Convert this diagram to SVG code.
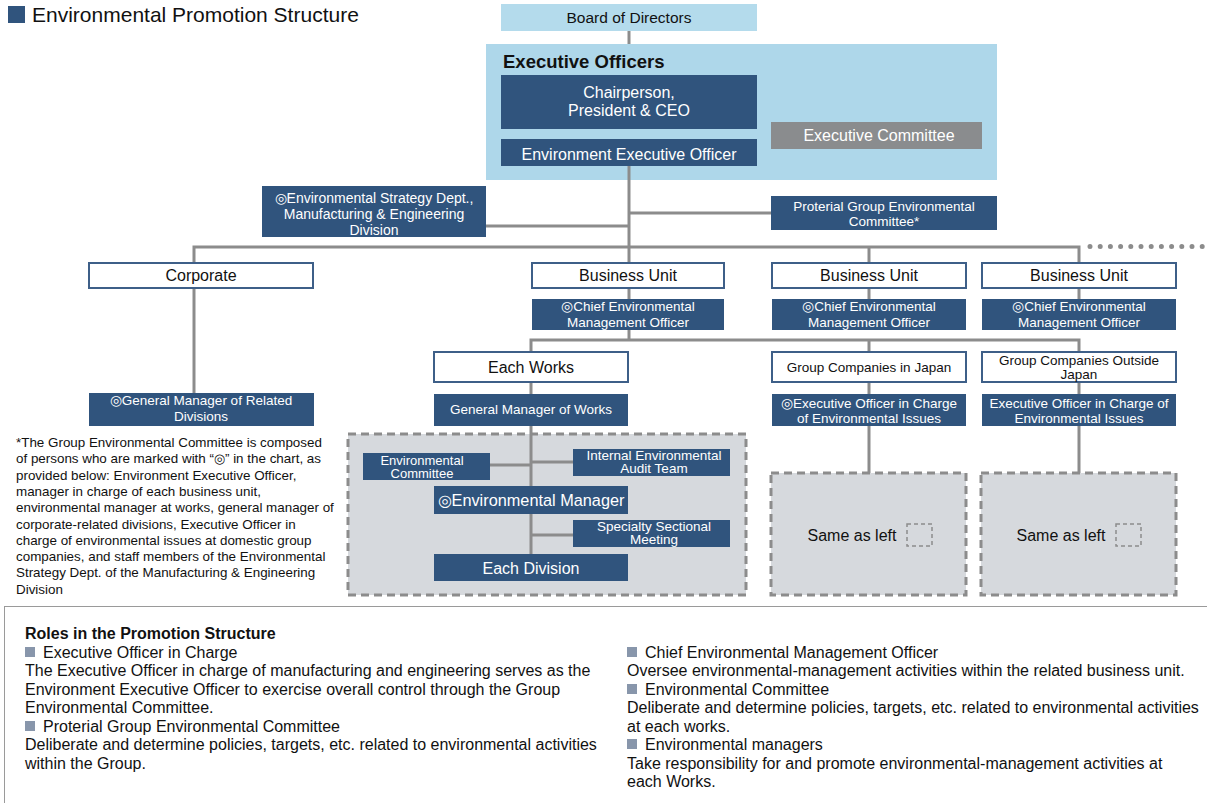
<svg xmlns="http://www.w3.org/2000/svg" width="1207" height="803" viewBox="0 0 1207 803">
<style>
text{font-family:"Liberation Sans",Arial,sans-serif;}
.dk{fill:#30547d;}
.wb{fill:#ffffff;stroke:#3e5f88;stroke-width:2;}
.wt{fill:#ffffff;text-anchor:middle;}
.bt{fill:#111111;text-anchor:middle;}
.s13{font-size:13.5px;}
.s15{font-size:16px;}
.con{fill:none;stroke:#8c8c8c;stroke-width:3;}
.reg{fill:#d6d9dd;stroke:#8c8c8c;stroke-width:3;stroke-dasharray:8 5;}
.body{font-size:16px;fill:#111111;}
.bul{fill:#8896ab;}
</style>

<g id="title">
<rect x="8" y="6" width="17" height="17" fill="#30547d"/>
<text x="32" y="21.5" font-size="21" fill="#111">Environmental Promotion Structure</text>
</g>

<g id="board">
<rect x="501" y="4" width="256" height="27" fill="#b4dbec"/>
<text x="629" y="23" class="bt" font-size="15.5">Board of Directors</text>
</g>

<g id="exec-panel">
<rect x="486" y="44" width="511" height="136" fill="#aed7ea"/>
<text x="503" y="68" font-size="18.5" font-weight="bold" fill="#111">Executive Officers</text>
</g>

<g id="region-works">
<rect x="348" y="434" width="398" height="161" class="reg"/>
</g>
<g id="region-japan">
<rect x="771" y="473" width="195" height="122" class="reg"/>
<text x="852" y="541" class="bt s15">Same as left</text>
<rect x="907" y="524" width="25" height="22" fill="none" stroke="#8c8c8c" stroke-width="1.5" stroke-dasharray="4 3"/>
</g>
<g id="region-overseas">
<rect x="981" y="473" width="195" height="122" class="reg"/>
<text x="1061" y="541" class="bt s15">Same as left</text>
<rect x="1116" y="524" width="25" height="22" fill="none" stroke="#8c8c8c" stroke-width="1.5" stroke-dasharray="4 3"/>
</g>

<g id="connectors">
<path class="con" d="M629 31V44"/>
<path class="con" d="M629 166V262"/>
<path class="con" d="M486 226H629"/>
<path class="con" d="M629 213H771"/>
<path class="con" d="M194 262V247H1079V262"/>
<path class="con" d="M869 247V262"/>
<path class="con" d="M869 288V299M1079 288V299M629 288V299"/>
<path class="con" d="M629 330V340"/>
<path class="con" d="M531 352V340H1079V352"/>
<path class="con" d="M869 340V352"/>
<path class="con" d="M531 382V394M531 426V554"/>
<path class="con" d="M869 382V394M869 426V473"/>
<path class="con" d="M1079 382V394M1079 426V473"/>
<path class="con" d="M194 288V393"/>
<path class="con" d="M490 465H531M531 462H573M531 535H573"/>
<path d="M1090 246.5H1207" fill="none" stroke="#8c8c8c" stroke-width="5" stroke-linecap="round" stroke-dasharray="0 10.2"/>
</g>

<g id="chairperson">
<rect x="501" y="75" width="256" height="54" class="dk"/>
<text class="wt s15" x="629" y="98">Chairperson,</text>
<text class="wt s15" x="629" y="116">President &amp; CEO</text>
</g>
<g id="env-exec-officer">
<rect x="501" y="139" width="256" height="27" class="dk"/>
<text class="wt s15" x="629" y="160">Environment Executive Officer</text>
</g>
<g id="exec-committee">
<rect x="771" y="122" width="211" height="27" fill="#8a8c8e"/>
<text class="wt s15" x="879" y="141">Executive Committee</text>
</g>

<g id="env-strategy">
<rect x="262" y="186" width="224" height="51" class="dk"/>
<text class="wt" font-size="14" x="374" y="203">◎Environmental Strategy Dept.,</text>
<text class="wt" font-size="14" x="374" y="219">Manufacturing &amp; Engineering</text>
<text class="wt" font-size="14" x="374" y="235">Division</text>
</g>
<g id="group-env-committee">
<rect x="771" y="196" width="226" height="34" class="dk"/>
<text class="wt s13" x="884" y="211">Proterial Group Environmental</text>
<text class="wt s13" x="884" y="226">Committee*</text>
</g>

<g id="corporate">
<rect x="89" y="263" width="224" height="25" class="wb"/>
<text class="bt s15" x="201" y="281">Corporate</text>
</g>
<g id="bu1">
<rect x="532" y="263" width="192" height="25" class="wb"/>
<text class="bt s15" x="628" y="281">Business Unit</text>
</g>
<g id="bu2">
<rect x="772" y="263" width="194" height="25" class="wb"/>
<text class="bt s15" x="869" y="281">Business Unit</text>
</g>
<g id="bu3">
<rect x="982" y="263" width="194" height="25" class="wb"/>
<text class="bt s15" x="1079" y="281">Business Unit</text>
</g>

<g id="cemo1">
<rect x="532" y="299" width="192" height="31" class="dk"/>
<text class="wt s13" x="628" y="311">◎Chief Environmental</text>
<text class="wt s13" x="628" y="327">Management Officer</text>
</g>
<g id="cemo2">
<rect x="772" y="299" width="194" height="31" class="dk"/>
<text class="wt s13" x="869" y="311">◎Chief Environmental</text>
<text class="wt s13" x="869" y="327">Management Officer</text>
</g>
<g id="cemo3">
<rect x="982" y="299" width="194" height="31" class="dk"/>
<text class="wt s13" x="1079" y="311">◎Chief Environmental</text>
<text class="wt s13" x="1079" y="327">Management Officer</text>
</g>

<g id="each-works">
<rect x="434" y="352" width="194" height="30" class="wb"/>
<text class="bt s15" x="531" y="373">Each Works</text>
</g>
<g id="gc-japan">
<rect x="772" y="352" width="194" height="30" class="wb"/>
<text class="bt s13" x="869" y="372">Group Companies in Japan</text>
</g>
<g id="gc-overseas">
<rect x="982" y="352" width="194" height="30" class="wb"/>
<text class="bt s13" x="1079" y="365">Group Companies Outside</text>
<text class="bt s13" x="1079" y="379">Japan</text>
</g>

<g id="gm-works">
<rect x="434" y="394" width="194" height="32" class="dk"/>
<text class="wt s13" x="531" y="414">General Manager of Works</text>
</g>
<g id="eo-japan">
<rect x="772" y="394" width="194" height="32" class="dk"/>
<text class="wt s13" x="869" y="408">◎Executive Officer in Charge</text>
<text class="wt s13" x="869" y="423">of Environmental Issues</text>
</g>
<g id="eo-overseas">
<rect x="982" y="394" width="194" height="32" class="dk"/>
<text class="wt s13" x="1079" y="408">Executive Officer in Charge of</text>
<text class="wt s13" x="1079" y="423">Environmental Issues</text>
</g>
<g id="gm-related">
<rect x="89" y="393" width="225" height="33" class="dk"/>
<text class="wt s13" x="201" y="405">◎General Manager of Related</text>
<text class="wt s13" x="201" y="421">Divisions</text>
</g>

<g id="env-committee">
<rect x="363" y="453" width="127" height="27" class="dk"/>
<text class="wt" font-size="13" x="422" y="465">Environmental</text>
<text class="wt" font-size="13" x="422" y="478">Committee</text>
</g>
<g id="audit-team">
<rect x="573" y="449" width="157" height="27" class="dk"/>
<text class="wt s13" x="654" y="460">Internal Environmental</text>
<text class="wt s13" x="654" y="473">Audit Team</text>
</g>
<g id="env-manager">
<rect x="434" y="486" width="194" height="28" class="dk"/>
<text class="wt" font-size="16.3" x="531" y="505.5">◎Environmental Manager</text>
</g>
<g id="specialty">
<rect x="573" y="520" width="157" height="27" class="dk"/>
<text class="wt s13" x="654" y="531">Specialty Sectional</text>
<text class="wt s13" x="654" y="544">Meeting</text>
</g>
<g id="each-division">
<rect x="434" y="554" width="194" height="27" class="dk"/>
<text class="wt" font-size="16" x="531" y="574">Each Division</text>
</g>

<g id="footnote">
<text font-size="13.4" fill="#111">
<tspan x="16" y="447">*The Group Environmental Committee is composed</tspan>
<tspan x="16" y="463.3">of persons who are marked with “◎” in the chart, as</tspan>
<tspan x="16" y="479.6">provided below: Environment Executive Officer,</tspan>
<tspan x="16" y="495.9">manager in charge of each business unit,</tspan>
<tspan x="16" y="512.2">environmental manager at works, general manager of</tspan>
<tspan x="16" y="528.5">corporate-related divisions, Executive Officer in</tspan>
<tspan x="16" y="544.8">charge of environmental issues at domestic group</tspan>
<tspan x="16" y="561.1">companies, and staff members of the Environmental</tspan>
<tspan x="16" y="577.4">Strategy Dept. of the Manufacturing &amp; Engineering</tspan>
<tspan x="16" y="593.7">Division</tspan>
</text>
</g>

<g id="roles-panel">
<rect x="4.5" y="606.5" width="1210" height="210" fill="#ffffff" stroke="#9a9a9a" stroke-width="1"/>
<text x="25" y="639" font-size="16" font-weight="bold" fill="#111">Roles in the Promotion Structure</text>
<rect x="25" y="647" width="10" height="10" class="bul"/>
<rect x="25" y="721" width="10" height="10" class="bul"/>
<text class="body">
<tspan x="43" y="657.5">Executive Officer in Charge</tspan>
<tspan x="25" y="676">The Executive Officer in charge of manufacturing and engineering serves as the</tspan>
<tspan x="25" y="694.5">Environment Executive Officer to exercise overall control through the Group</tspan>
<tspan x="25" y="713">Environmental Committee.</tspan>
<tspan x="43" y="731.5">Proterial Group Environmental Committee</tspan>
<tspan x="25" y="750">Deliberate and determine policies, targets, etc. related to environmental activities</tspan>
<tspan x="25" y="768.5">within the Group.</tspan>
</text>
<rect x="627" y="647" width="10" height="10" class="bul"/>
<rect x="627" y="684" width="10" height="10" class="bul"/>
<rect x="627" y="739" width="10" height="10" class="bul"/>
<text class="body">
<tspan x="645" y="657.5">Chief Environmental Management Officer</tspan>
<tspan x="627" y="676">Oversee environmental-management activities within the related business unit.</tspan>
<tspan x="645" y="694.5">Environmental Committee</tspan>
<tspan x="627" y="713">Deliberate and determine policies, targets, etc. related to environmental activities</tspan>
<tspan x="627" y="731.5">at each works.</tspan>
<tspan x="645" y="750">Environmental managers</tspan>
<tspan x="627" y="768.5">Take responsibility for and promote environmental-management activities at</tspan>
<tspan x="627" y="787">each Works.</tspan>
</text>
</g>
</svg>
